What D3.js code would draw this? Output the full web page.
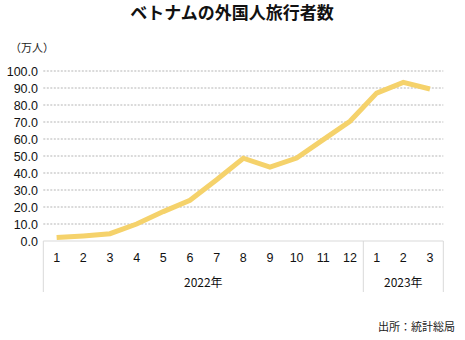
<!DOCTYPE html>
<html><head><meta charset="utf-8">
<script src="https://cdn.jsdelivr.net/npm/d3@7"></script>
<style>
body{margin:0;background:#fff;}
svg{display:block;font-family:"Noto Sans CJK JP","Noto Sans",sans-serif;}
.num{font-family:"Liberation Sans",Arial,sans-serif;}
</style></head><body>
<svg id="c" width="465" height="340"></svg>
<script>
const months = ["1","2","3","4","5","6","7","8","9","10","11","12","1","2","3"];
const years = [{label:"2022年", count:12},{label:"2023年", count:3}];
const values = [2.0,3.0,4.3,10.0,17.3,24.0,36.0,48.7,43.5,48.8,59.6,70.4,87.0,93.3,89.4];
const yTicks = [0,10,20,30,40,50,60,70,80,90,100];
const title = "ベトナムの外国人旅行者数";
const unit = "（万人）";
const source = "出所：統計総局";

(function(){
const svg = d3.select("#c");
const pL = 43.3, pR = 443.3, pT = 71, pB = 241;
const idx = d3.range(months.length);
const x = d3.scaleBand().domain(idx).range([pL, pR]);
const y = d3.scaleLinear().domain([0,100]).range([pB, pT]);

svg.append("text").attr("x",232).attr("y",19).attr("text-anchor","middle")
  .attr("font-size",17).attr("font-weight","bold").attr("fill","#111").text(title);
svg.append("text").attr("x",10).attr("y",52).attr("font-size",11).attr("fill","#222").text(unit);

const g = svg.append("g");
g.selectAll("line.grid").data(yTicks.filter(d=>d>0)).join("line")
  .attr("x1",pL).attr("x2",pR).attr("y1",d=>y(d)).attr("y2",d=>y(d))
  .attr("stroke","#b5b5b5").attr("stroke-width",1).attr("stroke-dasharray","2,1.5");
g.selectAll("text.yt").data(yTicks).join("text").attr("class","num")
  .attr("x",38).attr("y",d=>y(d)).attr("dy","0.36em").attr("text-anchor","end")
  .attr("font-size",12.5).attr("fill","#111")
  .text(d=>d3.format(".1f")(d));

const boxB = 292;
const boxC = "#d9d9d9";
svg.append("line").attr("x1",pL).attr("x2",pR).attr("y1",pB).attr("y2",pB).attr("stroke",boxC);
let acc = 0;
const seps = [0];
years.forEach(yr=>{acc+=yr.count; seps.push(acc);});
svg.selectAll("line.sep").data(seps).join("line")
  .attr("x1",d=> d<months.length ? x(d) : pR).attr("x2",d=> d<months.length ? x(d) : pR)
  .attr("y1",pB).attr("y2",boxB).attr("stroke",boxC);
svg.selectAll("text.mt").data(idx).join("text").attr("class","num")
  .attr("x",i=>x(i)+x.bandwidth()/2).attr("y",257).attr("dy","0.36em").attr("text-anchor","middle")
  .attr("font-size",12.5).attr("fill","#111").text(i=>months[i]);
let s=0;
years.forEach(yr=>{
  const x0 = x(s), x1 = (s+yr.count<months.length)? x(s+yr.count) : pR;
  svg.append("text").attr("x",(x0+x1)/2).attr("y",283).attr("dy","0.36em").attr("text-anchor","middle")
    .attr("font-size",12).attr("fill","#111").text(yr.label);
  s+=yr.count;
});

const line = d3.line().x((d,i)=>x(i)+x.bandwidth()/2).y(d=>y(d));
svg.append("path").datum(values).attr("d",line).attr("fill","none")
  .attr("stroke","#f5d26b").attr("stroke-width",5).attr("stroke-linejoin","miter");

svg.append("text").attr("x",455).attr("y",331).attr("text-anchor","end")
  .attr("font-size",11).attr("fill","#222").text(source);
})();
</script>
</body></html>
